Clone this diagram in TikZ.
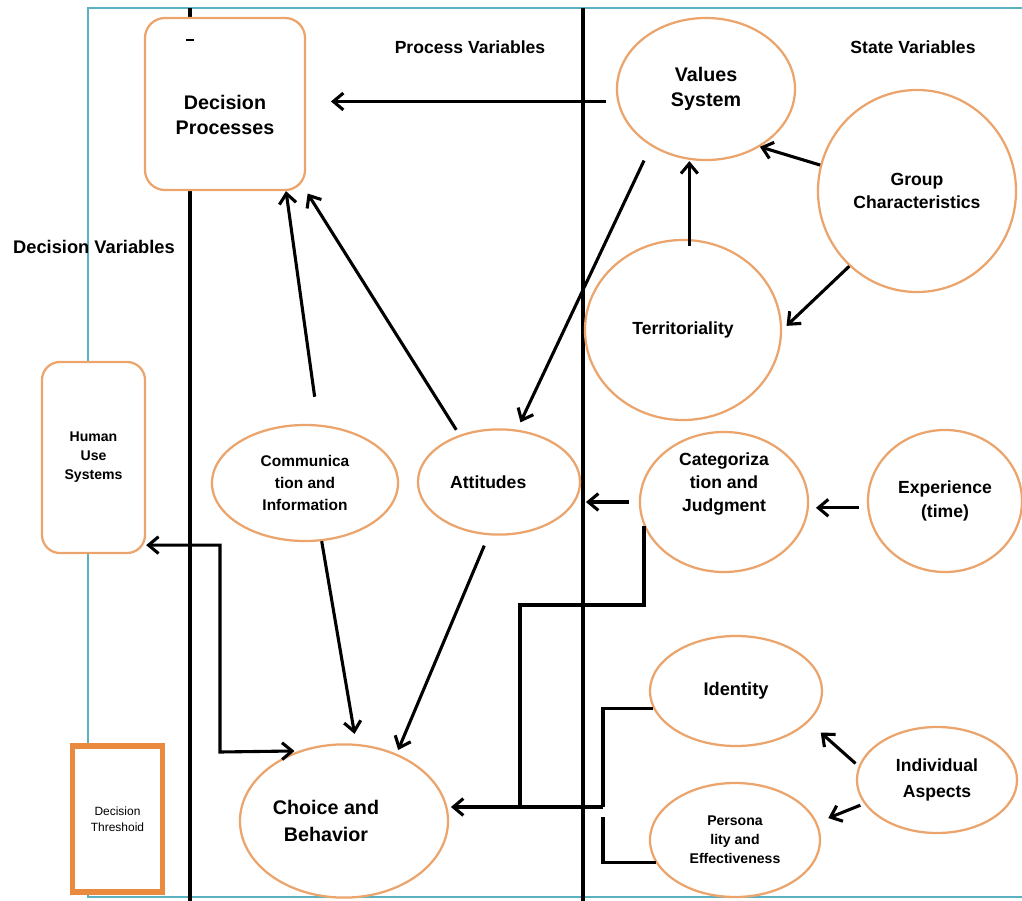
\documentclass[tikz,border=0pt]{standalone}
\usepackage{fontspec}
\setmainfont{Liberation Sans}
\usepackage{tikz}
\usetikzlibrary{arrows.meta,calc,shapes.geometric}
\definecolor{DgOrange}{HTML}{EBA46C}
\definecolor{DgDeep}{HTML}{E98A3E}
\definecolor{DgTeal}{HTML}{5BB0C1}
\newcommand{\dgfont}[2]{\fontsize{#1}{#2}\selectfont\bfseries}

\begin{document}
\begin{tikzpicture}[x=0.025cm,y=-0.025cm,
  oval/.style={ellipse,draw=DgOrange,line width=1.6pt,fill=white,inner sep=0pt,align=center},
  rbox/.style={rectangle,rounded corners=0.5cm,draw=DgOrange,line width=1.6pt,fill=white,align=center},
  link/.style={line width=2.2pt},
  arr/.style={link,-{Straight Barb[length=2.5mm,width=4.2mm]}},
  head/.style={font=\dgfont{12.5}{15}}]
  \useasboundingbox (0,0) rectangle (1022,901);
  \draw[DgTeal,line width=2pt] (1022,8) -| (88,897) -- (1022,897);
  \foreach \x in {190,583} {
    \draw[line width=3.5pt] (\x,8)--(\x,901);
  }
  \node[head] (pv) at (470,47) {Process Variables};
  \node[head] (sv) at (913,47) {State Variables};
  \node[font=\dgfont{13}{16}] (dv) at (94,247) {Decision Variables};
  \node[rbox,minimum width=4cm,minimum height=4.3cm,label={[font=\dgfont{14}{18},align=center,yshift=-0.27cm]center:{Decision\\Processes}}] (dp) at (225,104) {};
  \draw[line width=1.2pt] (186,40)--(194,40);
  \node[rbox,rounded corners=0.45cm,minimum width=2.575cm,minimum height=4.775cm,font=\dgfont{10}{13.5}] (hus) at (93.5,457.5) {Human\\Use\\Systems};
  \node[draw=DgDeep,line width=4pt,fill=white,minimum width=2.25cm,minimum height=3.65cm,align=center,font=\fontsize{8.5}{11}\selectfont] (dt) at (117.5,819) {Decision\\Threshoid};
  \node[oval,minimum width=4.45cm,minimum height=3.55cm,font=\dgfont{14}{18}] (val) at (706,89) {Values\\System};
  \node[oval,minimum width=4.95cm,minimum height=5.05cm,font=\dgfont{12.5}{16}] (grp) at (917,191) {Group\\Characteristics};
  \node[oval,minimum width=4.9cm,minimum height=4.5cm,font=\dgfont{12.5}{16}] (ter) at (683,330) {Territoriality};
  \node[oval,minimum width=4.2cm,minimum height=3.5cm,label={[font=\dgfont{12.5}{16.5},align=center,yshift=0.45cm]center:{Categoriza\\tion and\\Judgment}}] (cat) at (724,502) {};
  \node[oval,minimum width=3.85cm,minimum height=3.55cm,font=\dgfont{12.5}{17.5}] (exp) at (945,501) {Experience\\(time)};
  \node[oval,minimum width=4.3cm,minimum height=2.75cm,font=\dgfont{13}{16}] (idt) at (736,691) {Identity};
  \node[oval,minimum width=4cm,minimum height=2.65cm,font=\dgfont{12.5}{18}] (ind) at (937,780) {Individual\\Aspects};
  \node[oval,minimum width=4.25cm,minimum height=2.85cm,font=\dgfont{10}{13.5}] (per) at (735,840) {Persona\\lity and\\Effectiveness};
  \node[oval,minimum width=4.65cm,minimum height=2.9cm,font=\dgfont{11}{15.5}] (com) at (305,483) {Communica\\tion and\\Information};
  \node[oval,minimum width=4.05cm,minimum height=2.63cm,label={[font=\dgfont{12.5}{16},xshift=-0.27cm]center:Attitudes}] (att) at (499,482) {};
  \node[oval,minimum width=5.2cm,minimum height=3.83cm,label={[font=\dgfont{14}{19},align=center,xshift=-0.45cm]center:{Choice and\\Behavior}}] (cb) at (344,821) {};
  \draw[arr,shorten <=0.28cm,shorten >=0.62cm] (val.188)--(val.188 -| dp.east);
  \draw[arr,shorten <=0.4cm,shorten >=0.2cm] (val.226)--(att.71);
  \draw[arr] (grp.165)--(val.-47);
  \draw[arr,shorten <=-0.17cm] (ter.86)--(ter.86 |- val.south);
  \draw[arr,shorten >=0.15cm] (grp.228)--(ter.east);
  \draw[arr,shorten <=0.7cm] (com.77)--(dp.-55);
  \draw[arr,shorten <=0.15cm,shorten >=0.07cm] (att.130)--(dp.south east);
  \draw[arr,shorten <=0.25cm,shorten >=0.12cm] (cat.west)--(cat.west -| att.east);
  \draw[arr,shorten <=0.2cm,shorten >=0.17cm] (exp.185)--(exp.185 -| cat.east);
  \draw[arr,shorten >=0.25cm] (com.-74)--(cb.81);
  \draw[arr,shorten <=0.28cm,shorten >=0.1cm] (att.259)--(cb.52);
  \draw[arr,shorten <=0.1cm,shorten >=0.4cm] (ind.170)--(idt.-23);
  \draw[arr,shorten <=0.1cm,shorten >=0.3cm] (ind.198)--(per.12);
  \draw[link,{Straight Barb[length=2.5mm,width=4.2mm]}-{Straight Barb[length=2.5mm,width=4.2mm]},shorten >=0.1cm] ([yshift=-2.19cm]hus.east) -| (220,752)--(cb.123);
  \coordinate (join) at (603,807);
  \draw[link] (cat.197) |- (520,605)--(520,807);
  \draw[link] (idt.192) -| (join);
  \draw[link] (per.196) -| ([yshift=-0.25cm]join);
  \draw[arr,shorten >=0.08cm] (join)--(join -| cb.7);
\end{tikzpicture}
\end{document}
